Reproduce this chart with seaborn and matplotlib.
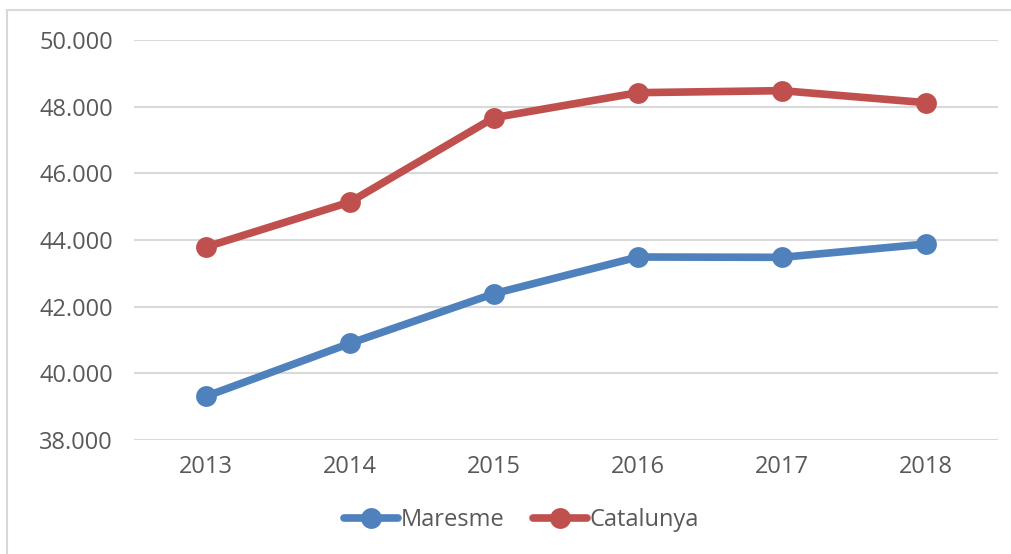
import matplotlib
matplotlib.use("Agg")
import matplotlib.pyplot as plt
from matplotlib.patches import Rectangle
from matplotlib.ticker import FuncFormatter
import pandas as pd
import seaborn as sns

# =========================
# DATA
# =========================

years = [2013, 2014, 2015, 2016, 2017, 2018]
maresme = [39310, 40900, 42390, 43490, 43480, 43880]
catalunya = [43790, 45140, 47670, 48420, 48480, 48120]
series_names = ["Maresme", "Catalunya"]
yticks = [38000, 40000, 42000, 44000, 46000, 48000, 50000]

df = pd.DataFrame({
    "year": years * 2,
    "value": maresme + catalunya,
    "serie": [series_names[0]] * len(years) + [series_names[1]] * len(years),
})

# =========================
# STYLE
# =========================

sns.set_style("white")
plt.rcParams["font.family"] = ["Open Sans", "DejaVu Sans"]

colors = {"Maresme": "#4F81BD", "Catalunya": "#C0504D"}
text_col = "#595959"

fig = plt.figure(figsize=(10.12, 5.54), dpi=100)
ax = fig.add_axes([134 / 1012, 1 - 440 / 554, (998 - 134) / 1012, (440 - 40) / 554])

# outer chart frame (partly cut off)
fig.patches.append(Rectangle((7 / 1012, -0.1), 1.2, 1 - 10 / 554 + 0.1,
                             transform=fig.transFigure, fill=False,
                             edgecolor="#D9D9D9", linewidth=1.5))

sns.lineplot(data=df, x="year", y="value", hue="serie", palette=colors,
             marker="o", markersize=15, markeredgewidth=0, linewidth=5.5,
             ax=ax, legend=False, zorder=3)

ax.set_xlim(2012.5, 2018.5)
ax.set_ylim(38000, 50000)
ax.set_xticks(years)
ax.set_yticks(yticks)
ax.yaxis.set_major_formatter(FuncFormatter(lambda v, p: f"{int(v):,}".replace(",", ".")))
ax.grid(axis="y", color="#D9D9D9", linewidth=1.5, zorder=0)
ax.set_axisbelow(True)
for s in ax.spines.values():
    s.set_visible(False)
ax.tick_params(axis="both", length=0, labelsize=17, labelcolor=text_col)
ax.tick_params(axis="y", pad=15)
ax.tick_params(axis="x", pad=11)
ax.set_xlabel("")
ax.set_ylabel("")

handles = [plt.Line2D([], [], color=colors[n], marker="o", markersize=15,
                      markeredgewidth=0, linewidth=5.5) for n in series_names]
fig.legend(handles, series_names, loc="center", bbox_to_anchor=(0.515, 1 - 520 / 554),
           ncol=2, frameon=False, fontsize=17, labelcolor=text_col,
           handlelength=2.3, handletextpad=0.1, columnspacing=1.2)

plt.savefig("out.png", dpi=100)
